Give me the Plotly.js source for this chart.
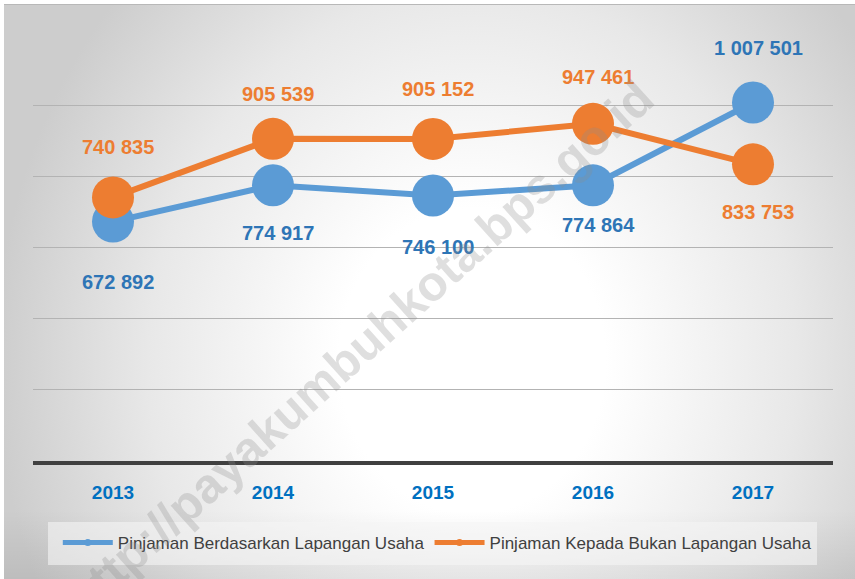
<!DOCTYPE html>
<html>
<head>
<meta charset="utf-8">
<script src="https://cdn.plot.ly/plotly-3.0.1.min.js"></script>
<style>
  html, body { margin: 0; padding: 0; background: #ffffff; }
  #bg {
    position: absolute; left: 4px; top: 4px; width: 851px; height: 575px;
    border-top: 1px solid #b8b8b8;
    box-sizing: border-box;
    background:
      linear-gradient(to bottom, rgba(0,0,0,0) 88%, rgba(0,0,0,0.08) 100%),
      radial-gradient(ellipse 56% 95% at 55% 62%, #ffffff 0%, #ffffff 28%, #e8e8e8 68%, #cdcdcd 100%);
  }
  #chart { position: absolute; left: 0; top: 0; width: 855px; height: 579px; }
</style>
</head>
<body>
<div id="bg"></div>
<div id="chart"></div>
<script>
// ---- data ----
const years = ['2013', '2014', '2015', '2016', '2017'];
const seriesNames = ['Pinjaman Berdasarkan Lapangan Usaha', 'Pinjaman Kepada Bukan Lapangan Usaha'];
const lapanganUsaha = [672892, 774917, 746100, 774864, 1007501];
const bukanLapanganUsaha = [740835, 905539, 905152, 947461, 833753];
const watermarkText = 'http://payakumbuhkota.bps.go.id';

// ---- styles ----
const blue = '#5B9BD5', orange = '#ED7D31';
const blueLabel = '#2E75B6', orangeLabel = '#ED7D31';
// vertical offsets (px) of the value labels from each marker
const blueLabelShift = [-60, -48, -51, -40, 55];
const orangeLabelShift = [50, 45, 50, 47, -48];

function fmt(v) { return String(v).replace(/\B(?=(\d{3})+(?!\d))/g, ' '); }

const FONT = 'Liberation Sans, Arial, sans-serif';
const labelFont = (c) => ({ family: FONT, size: 20, color: c, weight: 'bold' });

const traces = [
  { x: years, y: lapanganUsaha, type: 'scatter', mode: 'lines+markers', name: seriesNames[0],
    line: { color: blue, width: 6 }, marker: { color: blue, size: 42 }, showlegend: false, hoverinfo: 'skip' },
  { x: years, y: bukanLapanganUsaha, type: 'scatter', mode: 'lines+markers', name: seriesNames[1],
    line: { color: orange, width: 6 }, marker: { color: orange, size: 42 }, showlegend: false, hoverinfo: 'skip' },
  // legend entries
  { x: [null], y: [null], type: 'scatter', mode: 'lines+markers', name: seriesNames[0],
    line: { color: blue, width: 5 }, marker: { color: blue, size: 7 } },
  { x: [null], y: [null], type: 'scatter', mode: 'lines+markers', name: seriesNames[1],
    line: { color: orange, width: 5 }, marker: { color: orange, size: 7 } }
];

const annotations = [];
years.forEach((yr, i) => {
  annotations.push({ x: i, y: lapanganUsaha[i], text: fmt(lapanganUsaha[i]), showarrow: false,
    xanchor: 'center', yanchor: 'middle',
    xshift: 5, yshift: blueLabelShift[i], font: labelFont(blueLabel) });
  annotations.push({ x: i, y: bukanLapanganUsaha[i], text: fmt(bukanLapanganUsaha[i]), showarrow: false,
    xanchor: 'center', yanchor: 'middle',
    xshift: 5, yshift: orangeLabelShift[i], font: labelFont(orangeLabel) });
});
annotations.push({ xref: 'paper', yref: 'paper', x: 0.4075, y: 0.265, xanchor: 'center', yanchor: 'middle',
  text: watermarkText, showarrow: false, textangle: -42,
  font: { family: FONT, size: 49, color: 'rgba(140,140,140,0.28)', weight: 'bold' } });

const layout = {
  width: 855, height: 579,
  margin: { l: 33, r: 22, t: 34, b: 118 },
  paper_bgcolor: 'rgba(0,0,0,0)', plot_bgcolor: 'rgba(0,0,0,0)',
  showlegend: true,
  xaxis: {
    type: 'category', range: [-0.5, 4.5], showgrid: false, zeroline: false,
    showline: true, linecolor: '#404040', linewidth: 4, ticks: '',
    ticklabelstandoff: 11,
    tickfont: { family: FONT, size: 19, color: '#0070C0', weight: 'bold' }
  },
  yaxis: {
    range: [0, 1200000], dtick: 200000, tick0: 0, showticklabels: false, ticks: '',
    showgrid: true, gridcolor: '#b3b3b3', gridwidth: 1.3, zeroline: false, showline: false
  },
  legend: {
    orientation: 'h', x: 0.031, xanchor: 'left', y: -0.192, yanchor: 'middle',
    bgcolor: 'rgba(0,0,0,0)', borderwidth: 0, itemwidth: 50,
    font: { family: FONT, size: 17, color: '#404040' }
  },
  shapes: [
    { type: 'rect', xref: 'paper', yref: 'paper', layer: 'below',
      x0: (48 - 33) / 800, x1: (817 - 33) / 800, y0: (461 - 565) / 427, y1: (461 - 522) / 427,
      fillcolor: 'rgba(245,245,245,0.6)', line: { width: 0 } }
  ],
  annotations: annotations
};

Plotly.newPlot('chart', traces, layout, { staticPlot: true, displayModeBar: false });
</script>
</body>
</html>
